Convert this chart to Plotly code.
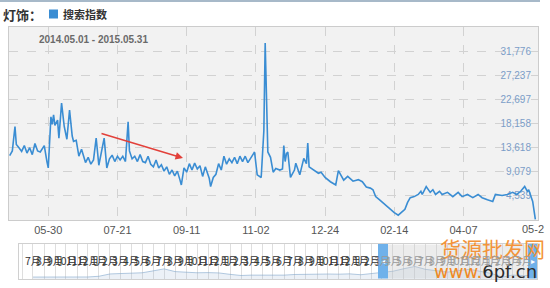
import pandas as pd
import plotly.graph_objects as go

# ---------------- data ----------------
start_date = pd.Timestamp("2014-05-01")
day_offsets = [
    0, 2, 4, 5, 7, 9, 11, 13, 15, 17, 19, 21, 23, 25, 26, 28, 29, 31, 32, 33, 34, 36, 37, 39, 41, 43, 45, 47, 48,
    50, 52, 54, 56, 57, 59, 61, 63, 65, 67, 69, 71, 73, 75, 77, 79, 81, 83, 85, 87, 89, 90, 92,
    94, 96, 98, 100, 102, 104, 106, 108, 110, 112, 114, 116, 118, 120, 122, 124, 126, 128, 129, 131, 133,
    135, 137, 139, 141, 143, 145, 147, 149, 150, 151, 153, 155, 157, 159, 161, 163, 165, 167, 169, 171,
    173, 175, 177, 179, 181, 183, 184, 186, 189, 191, 192, 194, 196, 198, 200, 203, 205, 206, 207, 208,
    209, 211, 214, 215, 218, 221, 223, 224, 225, 229, 232, 234, 237, 241, 245, 247, 249, 251, 254, 258,
    262, 265, 268, 271, 273, 275, 278, 282, 286, 289, 292, 294, 297, 299, 301, 304, 307, 309, 310, 313,
    316, 318, 320, 323, 325, 329, 333, 337, 340, 344, 348, 352, 355, 359, 363, 365, 370, 374, 378, 381,
    384, 387, 389, 390, 393, 395,
]
search_index = [
    12100, 13000, 17600, 14200, 13600, 12900, 14000, 12600, 13600, 12300, 14400, 13000, 12800, 13800, 14000, 11000, 9800, 19400, 18000, 19800, 17800, 18800, 15400, 22000, 17600, 15200, 20700, 15800, 14800,
    15000, 12000, 13300, 11500, 10800, 11800, 10500, 11300, 15400, 10300, 13000, 15400, 9800, 11500, 12200, 11000, 12000, 11300, 12000, 11000, 18500, 13000, 11500,
    12000, 11000, 12300, 11000, 10800, 12000, 10500, 10000, 11300, 9800, 10400, 9200, 10000, 8600, 9400, 8300, 9200, 7500, 6600, 9800, 9000,
    10600, 9400, 10700, 9600, 10200, 8200, 10000, 8500, 7800, 6300, 8000, 8600, 10600, 9400, 12000, 10500, 11500, 10800, 11800, 10600,
    12000, 11000, 12000, 10800, 11500, 12400, 12800, 8500, 8000, 16800, 33300, 12800, 11800, 9000, 9700, 9400, 9600, 14000, 11000, 12500,
    12800, 8000, 9400, 10700, 8500, 11600, 10600, 14500, 10000, 9400, 8800, 9000, 8000, 7200, 6600, 9300, 8300, 7500, 8200, 7300,
    7600, 7200, 6200, 6000, 5700, 4400, 3800, 2900, 2000, 1400, 900, 1400, 2000, 3300, 4200, 4400, 4800, 5400, 4800, 6300,
    5200, 5700, 4800, 5400, 4800, 5200, 4400, 5200, 4400, 4800, 4200, 4800, 4200, 3800, 3500, 4800, 4600, 4800, 5200, 4800,
    5400, 6300, 5400, 5700, 3500, 100,
]
dates = start_date + pd.to_timedelta(day_offsets, unit="D")

x_tick_dates = ["2014-05-30", "2014-07-21", "2014-09-11", "2014-11-02",
                "2014-12-24", "2015-02-14", "2015-04-07", "2015-05-29"]
x_tick_labels = ["05-30", "07-21", "09-11", "11-02", "12-24", "02-14", "04-07", "05-2"]
y_tick_values = [4539, 9079, 13618, 18158, 22697, 27237, 31776]
y_tick_labels = ["4,539", "9,079", "13,618", "18,158", "22,697", "27,237", "31,776"]
y_max = 36316

# navigator (overview) history, monthly
nav_hist_months = pd.date_range("2011-07-01", "2014-04-01", freq="MS")
nav_hist_values = [2500, 2400, 2600, 2500, 2700, 2600,
                   3500, 6500, 7000, 7500, 8000, 10500, 13000, 9500, 8500, 8000, 8200, 7800,
                   6000, 4500, 5000, 4800, 5200, 5000, 5800, 6200, 6000, 6400, 6200, 6600,
                   5500, 7000, 8500, 10000]
nav_label_months = pd.date_range("2011-07-01", "2015-04-01", freq="MS")

main_monthly = pd.Series(search_index, index=dates).resample("MS").mean()
nav_x = list(nav_hist_months) + list(main_monthly.index)
nav_y = list(nav_hist_values) + list(main_monthly.values)

# ---------------- layout helpers ----------------
W, H = 550, 288
def px(p):
    return p / W
def py(p):
    return 1 - p / H

FONT = "Liberation Sans, Arial, Noto Sans CJK SC, sans-serif"
CJK = "Noto Sans CJK SC, Liberation Sans, sans-serif"
BLUE = "#3a8dd3"

fig = go.Figure()
fig.add_trace(go.Scatter(x=dates, y=search_index, mode="lines",
                         line=dict(color=BLUE, width=1.6), hoverinfo="skip",
                         xaxis="x", yaxis="y"))
fig.add_trace(go.Scatter(x=nav_x, y=nav_y, mode="lines",
                         line=dict(color="rgba(120,160,200,0.55)", width=1),
                         fill="tozeroy", fillcolor="rgba(150,180,210,0.18)",
                         hoverinfo="skip", xaxis="x2", yaxis="y2"))

nav_range = ["2011-05-23", "2015-05-08"]

fig.update_layout(
    width=W, height=H, autosize=False,
    margin=dict(l=0, r=0, t=0, b=0),
    paper_bgcolor="white", plot_bgcolor="#f2f2f2",
    font=dict(family=FONT, size=11, color="#555"),
    showlegend=False,
    xaxis=dict(domain=[px(9), px(538)], anchor="y", type="date",
               range=["2014-04-30 12:00", "2015-06-02"],
               tickvals=x_tick_dates[:-1], ticktext=x_tick_labels[:-1],
               showgrid=True, gridcolor="#d2d2d2", griddash="dash", gridwidth=1,
               showline=True, linecolor="#cccccc", mirror=True, ticks="",
               zeroline=False, automargin=False,
               tickfont=dict(size=11, color="#555555")),
    # overlay axis carrying only the last grid line (its label is drawn below as text)
    xaxis3=dict(overlaying="x", matches="x", anchor="y", type="date",
                tickvals=x_tick_dates[-1:], ticktext=[""], showgrid=True,
                gridcolor="#d2d2d2", griddash="dash", gridwidth=1,
                showline=False, ticks="", zeroline=False, automargin=False),
    yaxis=dict(domain=[py(220), py(27)], anchor="x", range=[0, y_max], side="right",
               tickvals=y_tick_values, ticktext=y_tick_labels,
               ticklabelposition="inside", ticklabelstandoff=6, layer="below traces",
               showgrid=True, gridcolor="#d2d2d2", griddash="dash", gridwidth=1,
               showline=True, linecolor="#cccccc", mirror=True, zeroline=False,
               ticks="", automargin=False,
               tickfont=dict(size=10, color="#7b9dc8")),
    xaxis2=dict(domain=[px(19), px(537)], anchor="y2", type="date", range=nav_range,
                tick0="2011-07-01", dtick="M1", showticklabels=False,
                showgrid=True, gridcolor="#dedede", gridwidth=1,
                showline=True, linecolor="#d0d0d0", mirror=True, zeroline=False,
                ticks="", automargin=False),
    yaxis2=dict(domain=[py(279), py(244)], anchor="x2", range=[0, 45000],
                showgrid=False, showticklabels=False, showline=True,
                linecolor="#d0d0d0", mirror=True, zeroline=False, ticks="",
                automargin=False),
)

# dummy invisible trace to activate xaxis3
fig.add_trace(go.Scatter(x=[dates[0]], y=[None], xaxis="x3", yaxis="y",
                         mode="lines", hoverinfo="skip", showlegend=False))

shapes = [
    dict(type="line", xref="paper", yref="paper", x0=0, x1=px(540), y0=py(1), y1=py(1),
         line=dict(color="#a7b9c9", width=2)),
    dict(type="rect", xref="paper", yref="paper", x0=px(19), x1=px(537), y0=py(279), y1=py(244),
         fillcolor="white", line=dict(width=0), layer="below"),
    dict(type="rect", xref="paper", yref="paper", x0=px(388), x1=px(528), y0=py(278.5), y1=py(244.5),
         fillcolor="rgba(200,200,200,0.35)", line=dict(width=0), layer="above"),
    dict(type="rect", xref="paper", yref="paper", x0=px(378), x1=px(388), y0=py(278.5), y1=py(244),
         fillcolor="#6fb1ea", line=dict(width=0), layer="above"),
    dict(type="rect", xref="paper", yref="paper", x0=px(528), x1=px(537), y0=py(278.5), y1=py(244),
         fillcolor="#6fb1ea", line=dict(width=0), layer="above"),
    dict(type="rect", xref="paper", yref="paper", x0=px(49), x1=px(58), y0=py(18.5), y1=py(9.5),
         fillcolor=BLUE, line=dict(width=0)),
]

annotations = [
    dict(text="<b>灯饰：</b>", xref="paper", yref="paper", x=px(1), y=py(14),
         xanchor="left", yanchor="middle", showarrow=False,
         font=dict(family=CJK, size=13, color="#333333")),
    dict(text="<b>搜索指数</b>", xref="paper", yref="paper", x=px(61), y=py(14),
         xanchor="left", yanchor="middle", showarrow=False,
         font=dict(family=CJK, size=11, color="#333333")),
    dict(text="<b>2014.05.01 - 2015.05.31</b>", xref="paper", yref="paper", x=px(37), y=py(40),
         xanchor="left", yanchor="middle", showarrow=False,
         font=dict(family=FONT, size=10, color="#6a6a6a")),
    # last x tick label (plotly hides it next to the inside y labels)
    dict(text=x_tick_labels[-1], xref="x", yref="paper", x=x_tick_dates[-1], y=py(229),
         xanchor="center", yanchor="middle", showarrow=False,
         font=dict(family=FONT, size=11, color="#555555")),
    dict(text="", xref="paper", yref="paper", x=px(183), y=py(158), ax=-83, ay=-25,
         showarrow=True, arrowhead=2, arrowsize=1, arrowwidth=1.5, arrowcolor="#e2403a"),
    dict(text="◂", xref="paper", yref="paper", x=px(383), y=py(261), showarrow=False,
         xanchor="center", yanchor="middle", font=dict(size=8, color="white")),
    dict(text="▸", xref="paper", yref="paper", x=px(532.5), y=py(261), showarrow=False,
         xanchor="center", yanchor="middle", font=dict(size=8, color="white")),
    dict(text="货源批发网", xref="paper", yref="paper", x=px(438), y=py(248), showarrow=False,
         xanchor="left", yanchor="middle",
         font=dict(family=CJK, size=21, color="#f3943a")),
    dict(text="<span style='color:#f08a24'>www.</span><span style='color:#2a2a2a'>6pf.cn</span>",
         xref="paper", yref="paper", x=px(432), y=py(271), showarrow=False,
         xanchor="left", yanchor="middle",
         font=dict(family="DejaVu Sans", size=18, color="#f08a24")),
]

nav_start = pd.Timestamp(nav_range[0])
nav_end = pd.Timestamp(nav_range[1])
for m in nav_label_months:
    frac = (m - nav_start) / (nav_end - nav_start)
    xpix = 19 + frac * (537 - 19)
    if xpix > 527:
        continue
    col = "#333333" if xpix < 378 else "#9a9a9a"
    annotations.append(dict(text=f"{m.month}月", xref="x2", yref="paper", x=m, y=py(260),
                            xanchor="center", yanchor="middle", showarrow=False,
                            font=dict(family=CJK, size=10.5, color=col)))

fig.update_layout(shapes=shapes, annotations=annotations)
fig.write_html("out.html")
